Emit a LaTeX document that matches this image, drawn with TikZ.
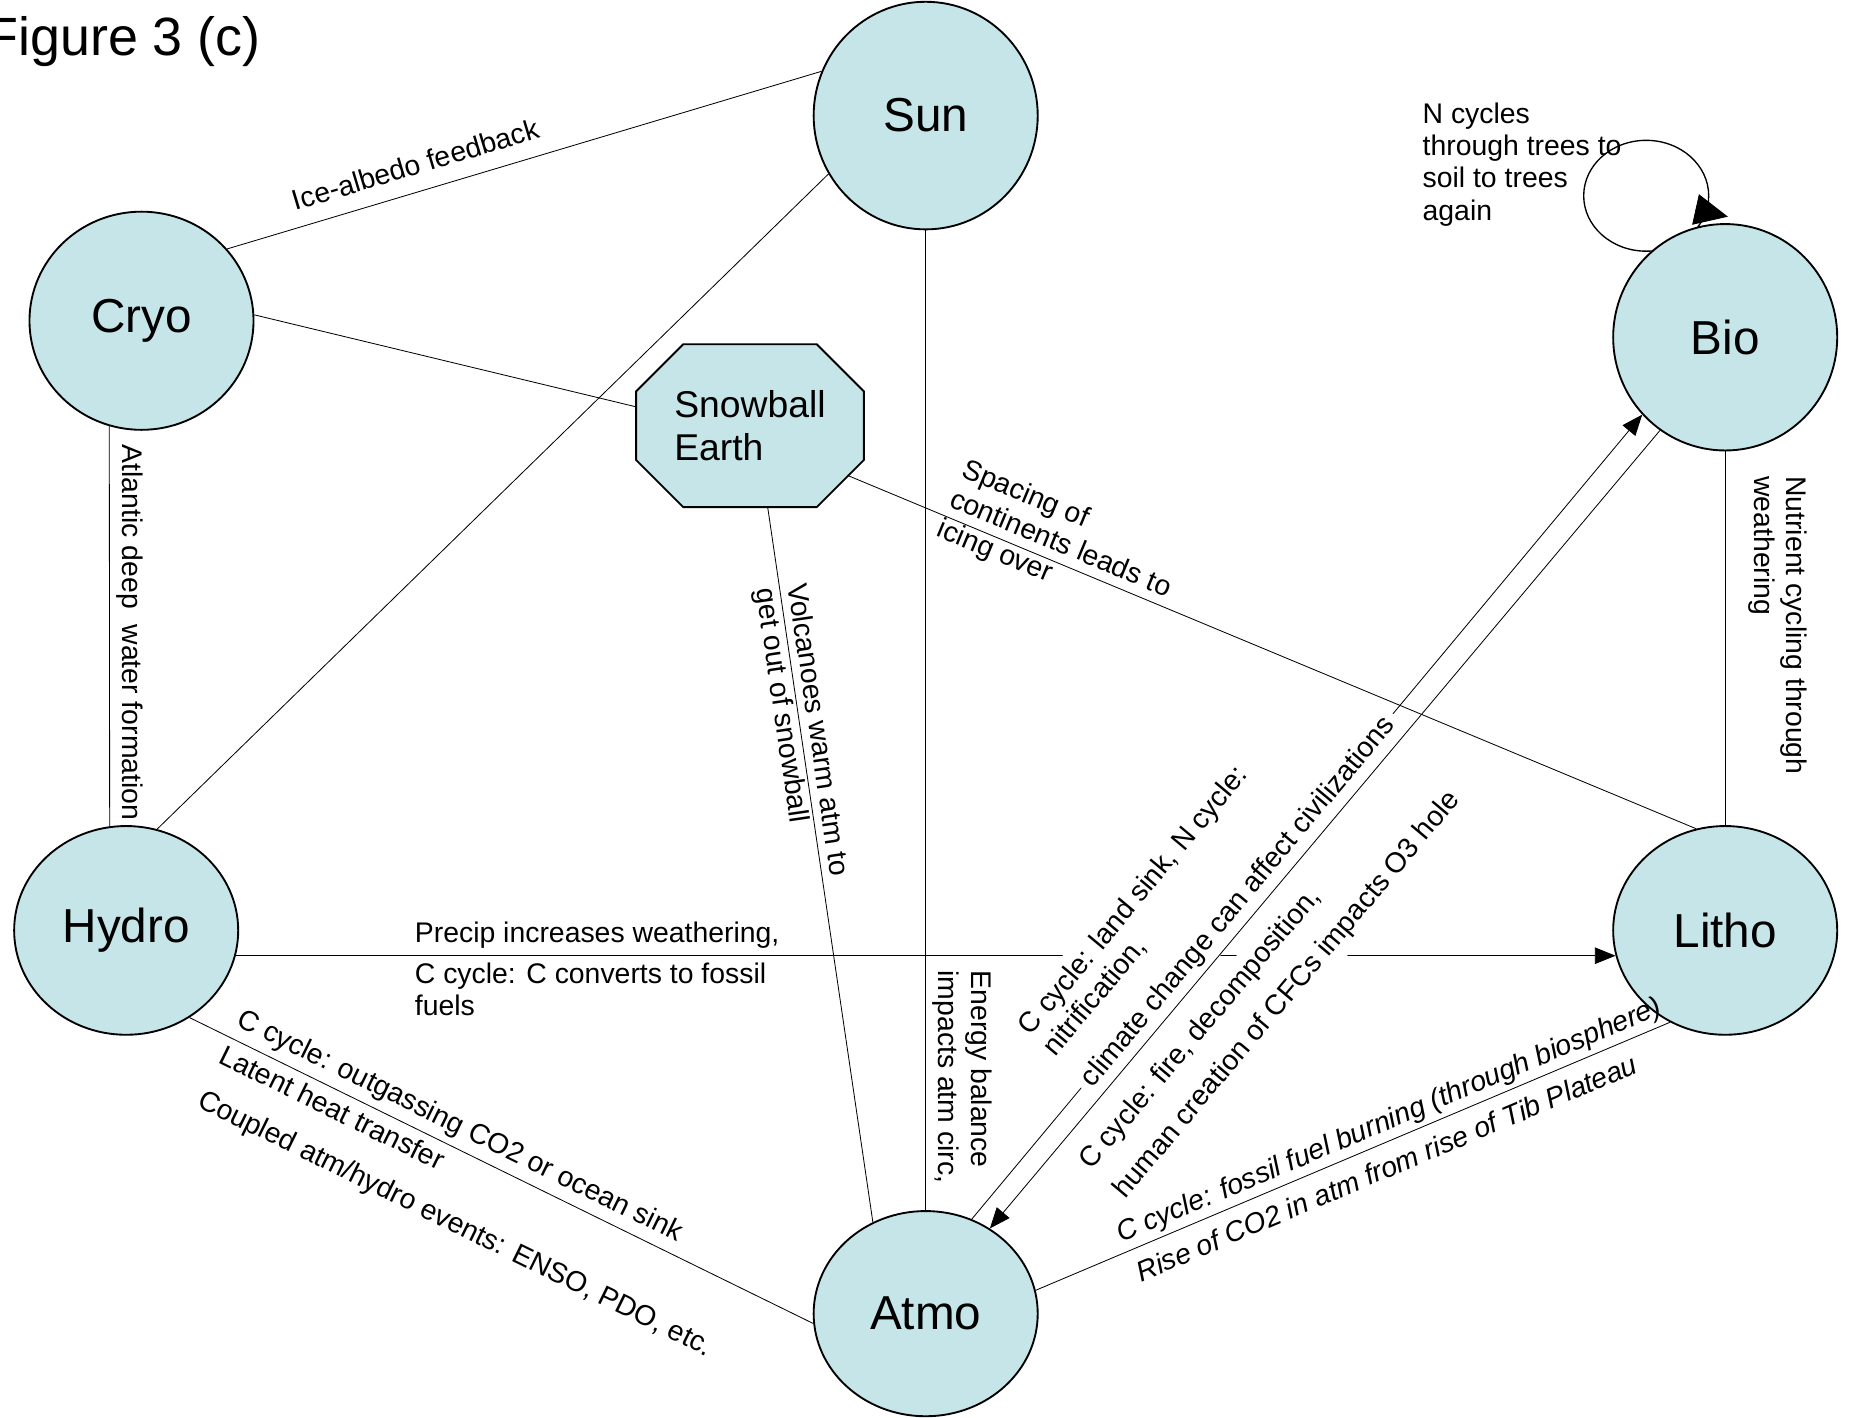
\documentclass[tikz,border=0pt]{standalone}
\usepackage{fontspec}
\setmainfont{Liberation Sans}
\usepackage{xcolor}
\usetikzlibrary{arrows.meta,shapes.geometric,positioning}
\pgfdeclarelayer{background}
\pgfsetlayers{background,main}
\definecolor{sphcol}{RGB}{198,229,232}
\def\lbsize{\fontsize{13.7}{15.5}\selectfont}
\def\sphsize{\fontsize{23}{27}\selectfont}

\begin{document}
\begin{tikzpicture}[x=0.2mm,y=-0.2mm,>={Triangle[length=10pt,width=8pt]},line width=0.65pt,
    sphr/.style={fill=sphcol,draw=black,line width=0.9pt,ellipse,inner sep=0pt,minimum width=38mm,minimum height=37mm,font=\sphsize},
    snowb/.style={draw=none,rectangle,minimum width=38.4mm,minimum height=27.4mm,inner sep=0pt,align=left,font=\fontsize{18}{21}\selectfont},
    lbl/.style={font=\lbsize,align=left},
    lbli/.style={font=\lbsize\itshape,align=left}]
%
   \useasboundingbox (0,0) rectangle (1568,1202);
   \node[font=\fontsize{26}{31}\selectfont,anchor=west,inner sep=0pt] (title) at (-13,35) {Figure 3 (c)};
   \node[draw,ellipse,minimum width=21.2mm,minimum height=18.8mm] (Nloop) at (1396,166) {};
   \node[lbl,anchor=north west] (Nlbl) at (1200,81) {N cycles\\through trees to\\soil to trees\\again};
   \node[sphr,minimum height=38.6mm] (Sun)   at (785,98)   {Sun};
   \node[sphr]                       (Cryo)  at (120,272)  {Cryo};
   \node[sphr,minimum height=38.4mm] (Bio)   at (1463,286) {Bio};
   \node[sphr,minimum height=35.4mm] (Hydro) at (107,789)  {Hydro};
   \node[sphr,minimum height=35.4mm] (Litho) at (1463,789) {Litho};
   \node[sphr,minimum height=34.8mm] (Atmo)  at (785,1114) {Atmo};
   \node[snowb]                      (Snow)  at (636,361)  {Snowball\\Earth};
   \begin{pgfonlayer}{background}
   \filldraw[fill=sphcol,line width=0.9pt] ([xshift=8mm]Snow.north west) -- ([xshift=-8mm]Snow.north east)
      -- ([yshift=-8mm]Snow.north east) -- ([yshift=8mm]Snow.south east) -- ([xshift=-8mm]Snow.south east)
      -- ([xshift=8mm]Snow.south west) -- ([yshift=8mm]Snow.south west) -- ([yshift=-8mm]Snow.north west) -- cycle;
   \end{pgfonlayer}
   \draw[-{Triangle[length=16pt,width=15pt]}] (Nloop.-15) -- ++(18,4);
   \path (Hydro.-13) edge[->] node[lbl,pos=0.1245,anchor=south west] {Precip increases weathering,}
                              node[lbl,pos=0.1245,anchor=north west] {C cycle: C converts to fossil\\fuels} (Litho.193);
   \path (Atmo.64) edge[->] node[lbl,sloped,fill=white,pos=0.163,anchor=west,yshift=6.5mm]
         {C cycle: land sink, N cycle:\\nitrification,\\[8pt]climate change can affect civilizations} (Bio.223);
   \path (Bio.235) edge[->] node[lbl,sloped,fill=white,pos=0.902,anchor=north west,yshift=-2.2mm]
         {C cycle: fire, decomposition,\\[6pt]human creation of CFCs impacts O3 hole} (Atmo.53);
   \path (Cryo.40) edge node[lbl,sloped,pos=0.33,above,yshift=1.6mm] {Ice-albedo feedback} (Sun.157);
   \path (Cryo.3) edge (Snow.west |- 0,345);
   \path (Sun.211) edge (Hydro.73);
   \path (Sun.south) edge node[lbl,pos=0.748,rotate=-90,anchor=south west] {Energy balance\\impacts atm circ,} (Atmo.north);
   \path (Cryo.253) edge node[lbl,pos=0.028,rotate=-90,anchor=south west] {Atlantic deep~ water formation} (Hydro.99);
   \path ([xshift=3mm]Snow.south) edge node[lbl,sloped,pos=0.315] {Volcanoes warm atm to\\get out of snowball} (Atmo.120);
   \path ([xshift=-2.8mm,yshift=5.4mm]Snow.south east) edge node[lbl,sloped,pos=0.243,yshift=3mm]
         {Spacing of\\continents leads to\\icing over} (Litho.106);
   \path (Hydro.-54) edge node[lbl,sloped,pos=0.054,anchor=south west] {C cycle: outgassing CO2 or ocean sink}
                          node[lbl,sloped,pos=0.054,anchor=north west] {Latent heat transfer\\[8pt]Coupled atm/hydro events: ENSO, PDO, etc.} (Atmo.185);
   \path (Atmo.12) edge node[lbli,sloped,pos=0.135,anchor=south west,inner sep=2pt] {C cycle: fossil fuel burning (through biosphere)}
                        node[lbli,sloped,pos=0.135,anchor=north west,yshift=-1mm] {Rise of CO2 in atm from rise of Tib Plateau} (Litho.239);
   \path (Bio.south) edge node[lbl,pos=0.047,rotate=-90,anchor=south west,inner ysep=11pt] {Nutrient cycling through\\weathering} (Litho.north);
\end{tikzpicture}
\end{document}
